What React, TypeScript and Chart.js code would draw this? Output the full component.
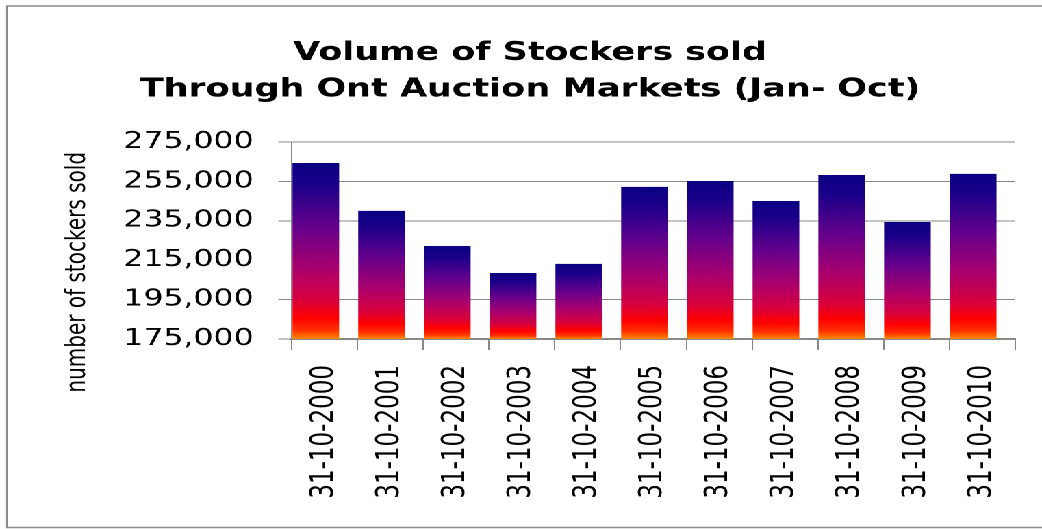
import React, { useEffect, useRef } from 'react';
import { Chart, registerables } from 'chart.js';

Chart.register(...registerables);

// ---- data ----
const CATEGORIES = [
  '31-10-2000', '31-10-2001', '31-10-2002', '31-10-2003', '31-10-2004', '31-10-2005',
  '31-10-2006', '31-10-2007', '31-10-2008', '31-10-2009', '31-10-2010',
];
const VOLUMES = [264300, 240000, 222200, 208500, 213100, 252200, 255200, 245000, 258200, 234400, 258800];
const Y_MIN = 175000;
const Y_MAX = 275000;
const Y_STEP = 20000;
const HIDDEN_GRID_VALUE = 215000;
const TITLE_LINES = ['Volume of Stockers sold', 'Through Ont Auction Markets (Jan- Oct)'];
const Y_TITLE = 'number of stockers sold';

// ---- layout ----
const PAGE_W = 1042;
const PAGE_H = 529;
const STRETCH = 1.369;
const W = Math.round(PAGE_W / STRETCH);
const FONT = 'DejaVu Sans';
const GRID = '#888888';

const GRADIENT_STOPS: [number, string][] = [
  [0, '#0a0082'],
  [0.12, '#1a008a'],
  [0.36, '#64008c'],
  [0.6, '#aa006e'],
  [0.78, '#d8003c'],
  [0.88, '#ff0000'],
  [0.95, '#ff3000'],
  [1, '#ff8a00'],
];

const framePlugin = {
  id: 'frame',
  beforeDraw(chart: any) {
    const ctx = chart.ctx;
    ctx.save();
    ctx.fillStyle = '#ffffff';
    ctx.fillRect(0, 0, chart.width, chart.height);
    ctx.restore();
  },
  afterDraw(chart: any) {
    const ctx = chart.ctx;
    ctx.save();
    ctx.strokeStyle = '#8a8a8a';
    ctx.lineWidth = 1.5;
    ctx.beginPath();
    ctx.moveTo(chart.width + 2, 6);
    ctx.lineTo(5.2, 6);
    ctx.lineTo(5.2, 527.5);
    ctx.lineTo(chart.width + 2, 527.5);
    ctx.stroke();
    ctx.restore();
  },
};

// bars sit at the left edge of each category slot (as in the source chart)
const alignBarsPlugin = {
  id: 'alignBars',
  afterDatasetsUpdate(chart: any) {
    const xs = chart.scales.x;
    const meta = chart.getDatasetMeta(0);
    const slot = xs.width / CATEGORIES.length;
    meta.data.forEach((el: any, i: number) => {
      const center = xs.getPixelForValue(i);
      el.x = center - slot / 2 + el.width / 2 + 0.4;
    });
  },
};

export default function App() {
  const ref = useRef<HTMLCanvasElement | null>(null);

  useEffect(() => {
    if (!ref.current) return;
    const chart = new Chart(ref.current, {
      type: 'bar',
      data: {
        labels: CATEGORIES,
        datasets: [
          {
            data: VOLUMES,
            barPercentage: 0.71,
            categoryPercentage: 1.0,
            borderWidth: 0,
            backgroundColor: (c: any) => {
              const ch = c.chart;
              const ys = ch.scales && ch.scales.y;
              if (!ch.chartArea || !ys || c.type !== 'data') return '#800080';
              const top = ys.getPixelForValue(c.raw);
              const bottom = ys.getPixelForValue(Y_MIN);
              if (!isFinite(top) || !isFinite(bottom) || bottom - top < 1) return '#800080';
              const g = ch.ctx.createLinearGradient(0, top, 0, bottom);
              GRADIENT_STOPS.forEach(([o, col]) => g.addColorStop(o, col));
              return g;
            },
          },
        ],
      },
      options: {
        responsive: false,
        animation: false,
        devicePixelRatio: 2,
        layout: { padding: { left: 33, right: 19.7, top: 0, bottom: 0 } },
        plugins: {
          legend: { display: false },
          tooltip: { enabled: false },
          title: {
            display: true,
            text: TITLE_LINES,
            color: '#000000',
            font: { family: FONT, size: 25.5, weight: 'bold', lineHeight: 1.43 },
            padding: { top: 35, bottom: 34 },
          },
        },
        scales: {
          x: {
            grid: {
              display: true,
              drawOnChartArea: false,
              drawTicks: true,
              tickLength: 11,
              color: GRID,
              lineWidth: 1,
              offset: true,
            },
            border: { display: true, color: GRID, width: 2 },
            ticks: {
              minRotation: 90,
              maxRotation: 90,
              autoSkip: false,
              padding: 15,
              color: '#000000',
              font: { family: FONT, size: 23 },
            },
            afterFit: (s: any) => {
              s.height = 190;
            },
          },
          y: {
            min: Y_MIN,
            max: Y_MAX,
            ticks: {
              stepSize: Y_STEP,
              padding: 18,
              color: '#000000',
              font: { family: FONT, size: 23 },
              callback: (v: any) => Number(v).toLocaleString('en-US'),
            },
            grid: {
              color: (c: any) => (c.tick && c.tick.value === HIDDEN_GRID_VALUE ? 'rgba(0,0,0,0)' : GRID),
              tickLength: 10,
              lineWidth: 1,
            },
            border: { display: true, color: GRID, width: 1 },
            title: {
              display: true,
              text: Y_TITLE + '          ',
              color: '#000000',
              font: { family: FONT, size: 20 },
              padding: { top: 11.6, bottom: 0 },
            },
            afterFit: (s: any) => {
              s.width = 180.2;
            },
          },
        },
      },
      plugins: [framePlugin, alignBarsPlugin],
    } as any);
    return () => chart.destroy();
  }, []);

  return (
    <div
      style={{
        position: 'fixed',
        left: 0,
        top: 0,
        width: W,
        height: PAGE_H,
        transform: `scaleX(${PAGE_W / W})`,
        transformOrigin: '0 0',
        background: '#ffffff',
      }}
    >
      <canvas ref={ref} width={W} height={PAGE_H} style={{ display: 'block' }} />
    </div>
  );
}
